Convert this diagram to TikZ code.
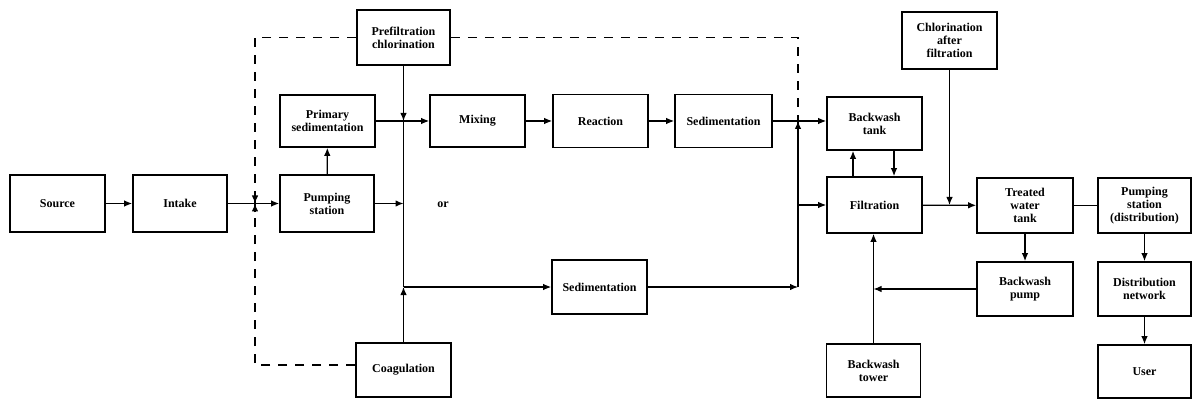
\documentclass[tikz,border=0pt]{standalone}
\usepackage{fontspec}
\setmainfont{Liberation Serif}
\usetikzlibrary{arrows.meta}
\tikzset{
  box/.style={draw, line width=1.7pt, rectangle, align=center, inner sep=1pt,
    font=\fontsize{12}{13}\selectfont\bfseries},
  conn/.style={line width=1.2pt},
  arr/.style={conn, -{Latex[length=8pt,width=6.5pt]}},
  dsh/.style={line width=1.2pt, dash pattern=on 9pt off 8pt},
  lbl/.style={font=\fontsize{12}{13}\selectfont\bfseries}
}
\begin{document}
\begin{tikzpicture}[x=1pt,y=-1pt]
\useasboundingbox (0,0) rectangle (1193,403);
% boxes
\node[box, minimum width=95pt, minimum height=57pt] (src) at (57.5,203.5) {Source};
\node[box, minimum width=94pt, minimum height=57pt] (intake) at (180,203.5) {Intake};
\node[box, minimum width=94pt, minimum height=57pt] (pump) at (327,203.5) {Pumping\\station};
\node[box, minimum width=95pt, minimum height=52pt] (psed) at (327.5,121) {Primary\\sedimentation};
\node[box, minimum width=93pt, minimum height=55pt] (prechl) at (403.5,37.5) {Prefiltration\\chlorination};
\node[box, minimum width=95pt, minimum height=52pt] (mix) at (477.5,121) {Mixing};
\node[box, minimum width=95pt, minimum height=53pt] (react) at (600.5,121) {Reaction};
\node[box, minimum width=97pt, minimum height=53pt] (sed) at (723.5,121) {Sedimentation};
\node[box, minimum width=95pt, minimum height=53pt] (bwtank) at (874.5,123.5) {Backwash\\tank};
\node[box, minimum width=95pt, minimum height=56pt] (filt) at (874.5,205) {Filtration};
\node[box, minimum width=95pt, minimum height=57pt] (chl) at (949.5,40.5) {Chlorination\\after\\filtration};
\node[box, minimum width=96pt, minimum height=55pt] (twt) at (1025,205.5) {Treated\\water\\tank};
\node[box, minimum width=93pt, minimum height=55pt] (pumpd) at (1144.5,205.5) {Pumping\\station\\(distribution)};
\node[box, minimum width=96pt, minimum height=54pt] (bwpump) at (1025,289) {Backwash\\pump};
\node[box, minimum width=93pt, minimum height=54pt] (distnet) at (1144.5,289) {Distribution\\network};
\node[box, minimum width=93pt, minimum height=53pt] (user) at (1144.5,371.5) {User};
\node[box, minimum width=94pt, minimum height=53pt] (bwtower) at (873.5,370.5) {Backwash\\tower};
\node[box, minimum width=95pt, minimum height=54pt] (sedb) at (599.5,287) {Sedimentation};
\node[box, minimum width=95pt, minimum height=54pt] (coag) at (403.5,370) {Coagulation};
\node[lbl] (or) at (443,205) {or};
% junction coordinates
\coordinate (jd) at (255,203.5);
\coordinate (j1) at (403.5,121);
\coordinate (j2) at (403.5,203.5);
\coordinate (j3) at (403.5,287);
\coordinate (j4) at (798,121);
\coordinate (j5) at (798,205);
\coordinate (j6) at (798,287);
\coordinate (j7) at (949.5,205);
\coordinate (j8) at (873.5,289);
\coordinate (d1) at (255,37.5);
\coordinate (d2) at (798,37.5);
\coordinate (d3) at (255,365);
% solid connectors
\draw[arr] (src) -- (intake);
\draw[arr] (intake) -- (pump);
\draw[arr] (pump) -- (psed);
\draw[arr] (psed) -- (mix);
\draw[arr] (prechl) -- (j1);
\draw[conn] (j1) -- (j3);
\draw[arr] (pump) -- (j2);
\draw[arr] (coag) -- (j3);
\draw[arr] (j3) -- (sedb);
\draw[arr] (mix) -- (react);
\draw[arr] (react) -- (sed);
\draw[arr] (sed.east) -- (sed.east -| bwtank.west);
\draw[conn] (j4) -- (j6);
\draw[arr] (j5) -- (filt);
\draw[arr] (sedb) -- (j6);
\draw[arr] ([xshift=-21.5pt]filt.north) -- ([xshift=-21.5pt]bwtank.south);
\draw[arr] ([xshift=19.5pt]bwtank.south) -- ([xshift=19.5pt]filt.north);
\draw[arr] (filt) -- (twt);
\draw[arr] (chl) -- (j7);
\draw[conn] (twt) -- (pumpd);
\draw[arr] (twt) -- (bwpump);
\draw[arr] (bwpump) -- (j8);
\draw[arr] (bwtower.north) -- (bwtower.north |- filt.south);
\draw[arr] (pumpd) -- (distnet);
\draw[arr] (distnet) -- (user);
% dashed connectors
\draw[dsh] (prechl.west) -- (d1) -- ([yshift=-8pt]jd);
\draw[dsh] (coag.west |- d3) -- (d3) -- ([yshift=8pt]jd);
\draw[dsh] (prechl.east) -- (d2) -- ([yshift=-8pt]j4);
\draw[arr] ([yshift=-9pt]jd) -- (jd);
\draw[arr] ([yshift=9pt]jd) -- (jd);
\draw[arr] ([yshift=-9pt]j4) -- (j4);
\end{tikzpicture}
\end{document}
